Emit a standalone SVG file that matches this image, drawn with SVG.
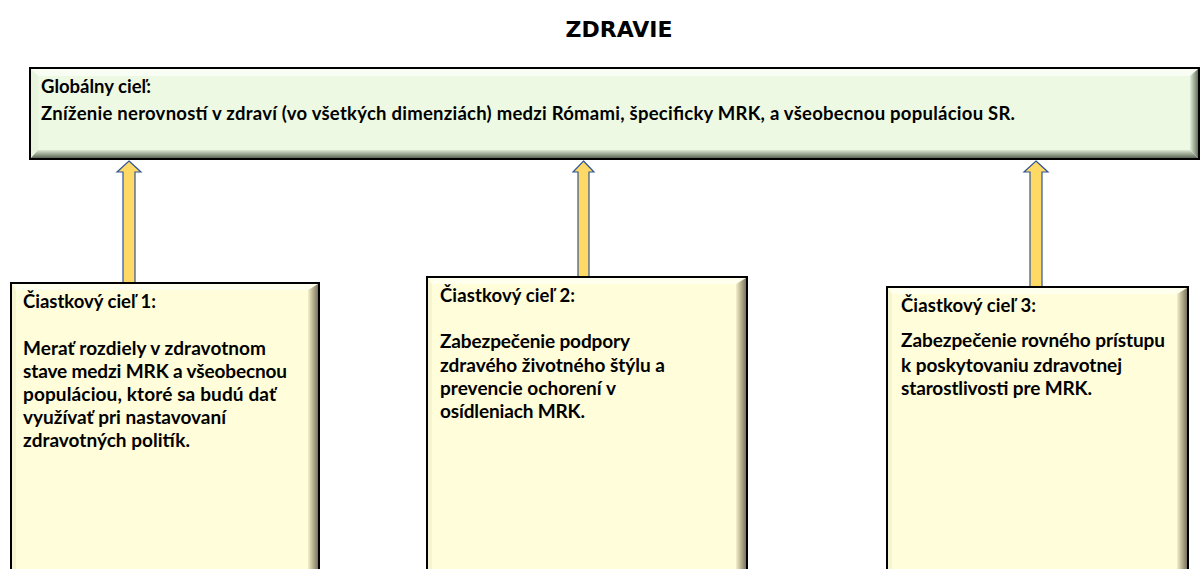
<svg xmlns="http://www.w3.org/2000/svg" width="1203" height="569" viewBox="0 0 1203 569">
<defs>
<style>
.t{font-family:Lato,"Liberation Sans",sans-serif;font-weight:bold;fill:#000}
.top{font-size:18.5px}
.sub{font-size:19px}
.hd{font-size:18.5px}
.title{font-family:"DejaVu Sans",sans-serif;font-weight:bold;font-size:22px;fill:#000}
.border{fill:none;stroke:#000;stroke-width:2}
.arrow{fill:#FFD966;stroke:#2F5597;stroke-width:1.2}
</style>
<linearGradient id="gR" x1="0" y1="0" x2="1" y2="0"><stop offset="0" stop-color="#E2EED8"/><stop offset="1" stop-color="#66705F"/></linearGradient>
<linearGradient id="gB" x1="0" y1="0" x2="0" y2="1"><stop offset="0" stop-color="#DCE8D2"/><stop offset="1" stop-color="#5E6858"/></linearGradient>
<linearGradient id="yR" x1="0" y1="0" x2="1" y2="0"><stop offset="0" stop-color="#F4F0C8"/><stop offset="1" stop-color="#7C735C"/></linearGradient>
</defs>
<rect width="1203" height="569" fill="#fff"/>
<text class="title" x="619" y="37" text-anchor="middle">ZDRAVIE</text>

<g id="global">
<rect x="31" y="69" width="1167" height="89" fill="#EEF9E3"/>
<polygon points="31,69 1198,69 1190,76 38,76" fill="#F9FEF4"/>
<polygon points="31,69 38,76 38,150 31,158" fill="#E8F4DE"/>
<polygon points="1198,69 1198,158 1190,150 1190,76" fill="url(#gR)"/>
<polygon points="31,158 1198,158 1190,150 38,150" fill="url(#gB)"/>
<rect class="border" x="30" y="68" width="1169" height="91"/>
<text class="t top" x="41" y="93">Globálny cieľ:</text>
<text class="t top" x="41" y="120" textLength="974">Zníženie nerovností v zdraví (vo všetkých dimenziách) medzi Rómami, špecificky MRK, a všeobecnou populáciou SR.</text>
</g>

<g id="connectors">
<polygon class="arrow" points="129,161 141,172 135,172 135,284 123,284 123,172 117,172"/>
<polygon class="arrow" points="583.5,161 594,172 589,172 589,278 578,278 578,172 573,172"/>
<polygon class="arrow" points="1036,161 1048,172 1042,172 1042,288 1030,288 1030,172 1024,172"/>
</g>

<g id="sub1">
<rect x="12" y="284" width="306" height="300" fill="#FFFDDA"/>
<polygon points="12,284 318,284 308,290 16,290" fill="#FFFFEE"/>
<polygon points="12,284 16,290 16,584 12,584" fill="#F7F4D2"/>
<polygon points="318,284 318,584 308,584 308,290" fill="url(#yR)"/>
<rect class="border" x="11" y="283" width="308" height="302"/>
<text class="t hd" x="23" y="308" textLength="133">Čiastkový cieľ 1:</text>
<text class="t sub" x="23" y="355" textLength="243">Merať rozdiely v zdravotnom</text>
<text class="t sub" x="23" y="378" textLength="264">stave medzi MRK a všeobecnou</text>
<text class="t sub" x="23" y="401" textLength="253">populáciou, ktoré sa budú dať</text>
<text class="t sub" x="23" y="424" textLength="203">využívať pri nastavovaní</text>
<text class="t sub" x="23" y="447" textLength="167">zdravotných politík.</text>
</g>

<g id="sub2">
<rect x="428" y="278" width="318" height="306" fill="#FFFDDA"/>
<polygon points="428,278 746,278 736,284 432,284" fill="#FFFFEE"/>
<polygon points="428,278 432,284 432,584 428,584" fill="#F7F4D2"/>
<polygon points="746,278 746,584 736,584 736,284" fill="url(#yR)"/>
<rect class="border" x="427" y="277" width="320" height="308"/>
<text class="t hd" x="440" y="302" textLength="135">Čiastkový cieľ 2:</text>
<text class="t sub" x="440" y="348" textLength="190">Zabezpečenie podpory</text>
<text class="t sub" x="440" y="372" textLength="225">zdravého životného štýlu a</text>
<text class="t sub" x="440" y="395" textLength="176">prevencie ochorení v</text>
<text class="t sub" x="440" y="418" textLength="145">osídleniach MRK.</text>
</g>

<g id="sub3">
<rect x="888" y="288" width="299" height="296" fill="#FFFDDA"/>
<polygon points="888,288 1187,288 1177,294 892,294" fill="#FFFFEE"/>
<polygon points="888,288 892,294 892,584 888,584" fill="#F7F4D2"/>
<polygon points="1187,288 1187,584 1177,584 1177,294" fill="url(#yR)"/>
<rect class="border" x="887" y="287" width="301" height="298"/>
<text class="t hd" x="901" y="312" textLength="135">Čiastkový cieľ 3:</text>
<text class="t sub" x="901" y="347" textLength="264">Zabezpečenie rovného prístupu</text>
<text class="t sub" x="901" y="372" textLength="221">k poskytovaniu zdravotnej</text>
<text class="t sub" x="901" y="395" textLength="191">starostlivosti pre MRK.</text>
</g>
</svg>
